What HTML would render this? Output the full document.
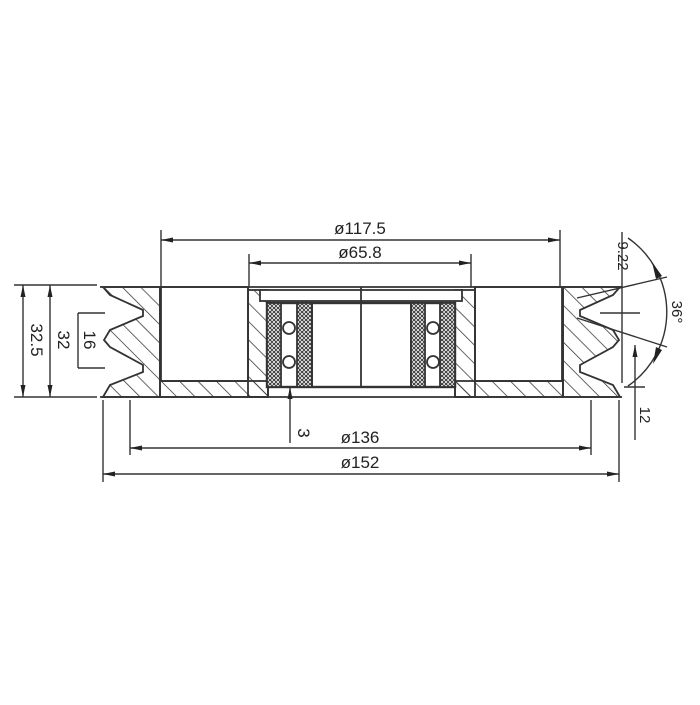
<!DOCTYPE html>
<html><head><style>
html,body{margin:0;padding:0;background:#fff;}
svg text{font-family:"Liberation Sans",sans-serif;fill:#222;}
</style></head><body>
<svg width="700" height="700" viewBox="0 0 700 700" xmlns="http://www.w3.org/2000/svg">
<defs>
<pattern id="h" width="13" height="13" patternUnits="userSpaceOnUse" patternTransform="rotate(-45)">
<line x1="0" y1="0" x2="0" y2="13" stroke="#333" stroke-width="1.5"/>
</pattern>
<pattern id="d" width="4" height="4" patternUnits="userSpaceOnUse">
<rect width="4" height="4" fill="#fff"/>
<circle cx="2" cy="2" r="1.5" fill="none" stroke="#333" stroke-width="0.9"/>
</pattern>
<marker id="a" markerWidth="12" markerHeight="6" refX="12" refY="3" orient="auto-start-reverse" markerUnits="userSpaceOnUse">
<path d="M0,0.5 L12,3 L0,5.5 Z" fill="#222"/>
</marker>
</defs>
<g stroke="#333" stroke-width="1.8" fill="none">
<path d="M103,287 L160,287 L160,397 L103,397 L110,385 L143,372 L143,365 L110,347 L104,340 L110,330 L143,316 L143,310 L110,295 Z" fill="url(#h)"/>
<path d="M620,287 L563,287 L563,397 L620,397 L613,385 L580,372 L580,365 L613,347 L619,340 L613,330 L580,316 L580,310 L613,295 Z" fill="url(#h)"/>
<rect x="160" y="381" width="108" height="16" fill="url(#h)"/>
<rect x="455" y="381" width="108" height="16" fill="url(#h)"/>
<rect x="248" y="290" width="20" height="107" fill="url(#h)"/>
<rect x="455" y="290" width="20" height="107" fill="url(#h)"/>
<rect x="161" y="287" width="87" height="94" fill="#fff"/>
<rect x="475" y="287" width="87" height="94" fill="#fff"/>
<line x1="160" y1="287" x2="160" y2="381"/><line x1="248" y1="287" x2="248" y2="381"/>
<line x1="475" y1="287" x2="475" y2="381"/><line x1="563" y1="287" x2="563" y2="381"/>
<line x1="160" y1="381" x2="248" y2="381"/><line x1="475" y1="381" x2="563" y2="381"/>
<line x1="100" y1="287" x2="622" y2="287"/>
<line x1="100" y1="397" x2="622" y2="397"/>
<rect x="260" y="290" width="202" height="11" fill="#fff"/>
<rect x="267" y="303" width="188" height="84" fill="#fff" stroke-width="2.4"/>
<rect x="267" y="303" width="14" height="84" fill="url(#d)"/>
<rect x="297" y="303" width="15" height="84" fill="url(#d)"/>
<rect x="411" y="303" width="14" height="84" fill="url(#d)"/>
<rect x="440" y="303" width="15" height="84" fill="url(#d)"/>
<line x1="312" y1="303" x2="312" y2="387"/><line x1="411" y1="303" x2="411" y2="387"/>
<circle cx="289" cy="328" r="6"/><circle cx="289" cy="362" r="6"/>
<circle cx="433" cy="328" r="6"/><circle cx="433" cy="362" r="6"/>
<line x1="361" y1="287" x2="361" y2="387"/>
</g>
<g stroke="#333" stroke-width="1.4" fill="none">
<line x1="161" y1="230" x2="161" y2="287"/><line x1="560" y1="230" x2="560" y2="287"/>
<line x1="161" y1="240" x2="560" y2="240" marker-start="url(#a)" marker-end="url(#a)"/>
<line x1="249" y1="254" x2="249" y2="287"/><line x1="471" y1="254" x2="471" y2="287"/>
<line x1="249" y1="263" x2="471" y2="263" marker-start="url(#a)" marker-end="url(#a)"/>
<line x1="130" y1="400" x2="130" y2="455"/><line x1="591" y1="400" x2="591" y2="455"/>
<line x1="130" y1="448" x2="591" y2="448" marker-start="url(#a)" marker-end="url(#a)"/>
<line x1="103" y1="400" x2="103" y2="482"/><line x1="619" y1="400" x2="619" y2="482"/>
<line x1="103" y1="474" x2="619" y2="474" marker-start="url(#a)" marker-end="url(#a)"/>
<line x1="290" y1="443" x2="290" y2="387" marker-end="url(#a)"/>
<line x1="14" y1="285" x2="97" y2="285"/><line x1="14" y1="397" x2="97" y2="397"/>
<line x1="23" y1="285" x2="23" y2="397" marker-start="url(#a)" marker-end="url(#a)"/>
<line x1="50" y1="285" x2="50" y2="397" marker-start="url(#a)" marker-end="url(#a)"/>
<line x1="78" y1="313" x2="78" y2="368"/>
<line x1="78" y1="313" x2="105" y2="313"/><line x1="78" y1="368" x2="105" y2="368"/>
<line x1="622" y1="232" x2="622" y2="383"/>
<line x1="577" y1="298" x2="667" y2="277"/>
<line x1="577" y1="318" x2="667" y2="347"/>
<line x1="640" y1="313" x2="600" y2="313"/>
<path d="M628,238 A90,90 0 0 1 628,386"/>
<line x1="635" y1="440" x2="635" y2="345" marker-end="url(#a)"/>
<line x1="624" y1="387" x2="645" y2="387"/>
</g>
<path d="M652,262 L662,276 L656,279 Z" fill="#222"/>
<path d="M656,347 L662,350 L653,364 Z" fill="#222"/>
<g font-size="17">
<text x="360" y="234" text-anchor="middle">ø117.5</text>
<text x="360" y="258" text-anchor="middle">ø65.8</text>
<text x="360" y="443" text-anchor="middle">ø136</text>
<text x="360" y="468" text-anchor="middle">ø152</text>
<text x="305" y="440" transform="rotate(90 305 433)" text-anchor="middle">3</text>
<text transform="translate(31,340) rotate(90)" text-anchor="middle">32.5</text>
<text transform="translate(58,340) rotate(90)" text-anchor="middle">32</text>
<text transform="translate(84,340) rotate(90)" text-anchor="middle">16</text>
<text transform="translate(618,256) rotate(90)" text-anchor="middle" font-size="15">9.22</text>
<text transform="translate(672,312) rotate(90)" text-anchor="middle" font-size="15">36°</text>
<text transform="translate(640,415) rotate(90)" text-anchor="middle" font-size="15">12</text>
</g>
</svg>
</body></html>
